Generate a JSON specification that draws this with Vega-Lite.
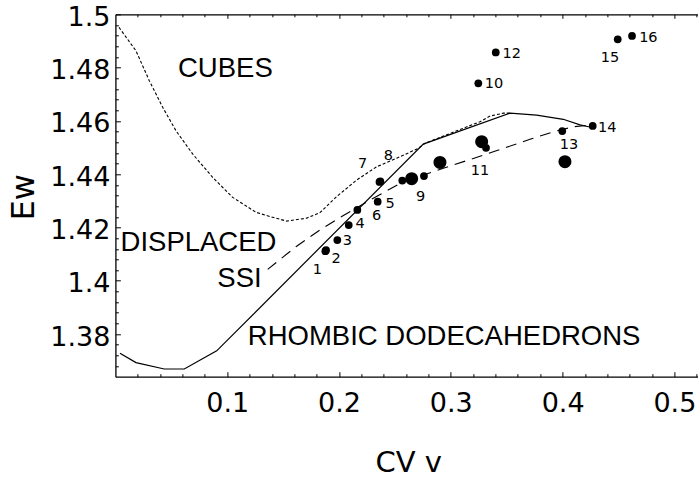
{
  "$schema": "https://vega.github.io/schema/vega-lite/v6.json",
  "width": 582.6,
  "height": 362.4,
  "autosize": "none",
  "padding": {"left": 115.4, "top": 14.3, "right": 0, "bottom": 104.3},
  "background": "white",
  "config": {
    "view": {"stroke": null},
    "axis": {
      "domainColor": "black",
      "domainWidth": 1.3,
      "tickColor": "black",
      "tickWidth": 1,
      "grid": false,
      "labelColor": "black",
      "labelFont": "DejaVu Sans",
      "labelFontSize": 27,
      "labelOverlap": false,
      "labelFlush": false,
      "titleColor": "black",
      "titleFont": "DejaVu Sans",
      "titleFontWeight": "normal"
    }
  },
  "resolve": {"axis": {"y": "independent"}},
  "datasets": {
    "rhombic": [
      {"cv": 0.0041, "ew": 1.3728},
      {"cv": 0.0184, "ew": 1.3693},
      {"cv": 0.0437, "ew": 1.3669},
      {"cv": 0.0616, "ew": 1.3669},
      {"cv": 0.0906, "ew": 1.3737},
      {"cv": 0.2754, "ew": 1.4513},
      {"cv": 0.3530, "ew": 1.4629},
      {"cv": 0.3768, "ew": 1.4622},
      {"cv": 0.4006, "ew": 1.4606},
      {"cv": 0.4156, "ew": 1.4585},
      {"cv": 0.4230, "ew": 1.4578},
      {"cv": 0.4269, "ew": 1.4578}
    ],
    "cubes": [
      {"cv": 0.0032, "ew": 1.4951},
      {"cv": 0.0184, "ew": 1.4863},
      {"cv": 0.0303, "ew": 1.4751},
      {"cv": 0.0423, "ew": 1.4651},
      {"cv": 0.0542, "ew": 1.4563},
      {"cv": 0.0691, "ew": 1.4476},
      {"cv": 0.0870, "ew": 1.4388},
      {"cv": 0.1049, "ew": 1.4313},
      {"cv": 0.1258, "ew": 1.4257},
      {"cv": 0.1383, "ew": 1.4241},
      {"cv": 0.1532, "ew": 1.4224},
      {"cv": 0.1711, "ew": 1.4235},
      {"cv": 0.1830, "ew": 1.4256},
      {"cv": 0.1979, "ew": 1.4316},
      {"cv": 0.2158, "ew": 1.4378},
      {"cv": 0.2337, "ew": 1.4428},
      {"cv": 0.2516, "ew": 1.4460},
      {"cv": 0.2709, "ew": 1.4497},
      {"cv": 0.2769, "ew": 1.4516},
      {"cv": 0.3261, "ew": 1.4597},
      {"cv": 0.3351, "ew": 1.4618},
      {"cv": 0.3470, "ew": 1.4629},
      {"cv": 0.3530, "ew": 1.4629}
    ],
    "ssi": [
      {"cv": 0.1362, "ew": 1.4043},
      {"cv": 0.1615, "ew": 1.4128},
      {"cv": 0.1830, "ew": 1.4191},
      {"cv": 0.2024, "ew": 1.4241},
      {"cv": 0.2277, "ew": 1.4303},
      {"cv": 0.2575, "ew": 1.4372},
      {"cv": 0.2933, "ew": 1.4422},
      {"cv": 0.3380, "ew": 1.4484},
      {"cv": 0.3708, "ew": 1.4531},
      {"cv": 0.3917, "ew": 1.4559},
      {"cv": 0.4096, "ew": 1.4578},
      {"cv": 0.4216, "ew": 1.4583}
    ],
    "samples": [
      {"id": "1", "cv": 0.1878, "ew": 1.4111, "group": 1, "lx": 0.1806, "ly": 1.4044},
      {"id": "2", "cv": 0.1884, "ew": 1.4115, "group": 1, "lx": 0.1973, "ly": 1.4084},
      {"id": "3", "cv": 0.1985, "ew": 1.4153, "group": 1, "lx": 0.2074, "ly": 1.4153},
      {"id": "4", "cv": 0.2087, "ew": 1.4209, "group": 1, "lx": 0.2188, "ly": 1.4218},
      {"id": "5", "cv": 0.2346, "ew": 1.4297, "group": 1, "lx": 0.2456, "ly": 1.4293},
      {"id": "6", "cv": 0.2164, "ew": 1.4266, "group": 1, "lx": 0.2337, "ly": 1.4247},
      {"id": "7", "cv": 0.2362, "ew": 1.4371, "group": 1, "lx": 0.2212, "ly": 1.4441},
      {"id": "8", "cv": 0.2370, "ew": 1.4373, "group": 1, "lx": 0.2441, "ly": 1.4472},
      {"id": "9", "cv": 0.2650, "ew": 1.4383, "group": 2, "lx": 0.2731, "ly": 1.4318},
      {"id": "", "cv": 0.2566, "ew": 1.4376, "group": 1},
      {"id": "", "cv": 0.2760, "ew": 1.4393, "group": 1},
      {"id": "", "cv": 0.2903, "ew": 1.4444, "group": 2},
      {"id": "10", "cv": 0.3246, "ew": 1.4741, "group": 1, "lx": 0.3386, "ly": 1.4741},
      {"id": "11", "cv": 0.3276, "ew": 1.4522, "group": 2, "lx": 0.3261, "ly": 1.4416},
      {"id": "", "cv": 0.3315, "ew": 1.4499, "group": 1},
      {"id": "12", "cv": 0.3402, "ew": 1.4857, "group": 1, "lx": 0.3545, "ly": 1.4854},
      {"id": "13", "cv": 0.3997, "ew": 1.4562, "group": 1, "lx": 0.4057, "ly": 1.4513},
      {"id": "", "cv": 0.4021, "ew": 1.4447, "group": 2},
      {"id": "14", "cv": 0.4269, "ew": 1.4581, "group": 1, "lx": 0.4400, "ly": 1.4578},
      {"id": "15", "cv": 0.4493, "ew": 1.4906, "group": 1, "lx": 0.4424, "ly": 1.4839},
      {"id": "16", "cv": 0.4621, "ew": 1.4919, "group": 1, "lx": 0.4767, "ly": 1.4916}
    ],
    "regions": [
      {"name": "CUBES", "cv": 0.0560, "ew": 1.4764},
      {"name": "DISPLACED", "cv": 0.0046, "ew": 1.4113},
      {"name": "SSI", "cv": 0.0912, "ew": 1.3978},
      {"name": "RHOMBIC DODECAHEDRONS", "cv": 0.1184, "ew": 1.3759}
    ]
  },
  "layer": [
    {
      "data": {"name": "rhombic"},
      "mark": {"type": "line", "color": "black", "strokeWidth": 1.2},
      "encoding": {
        "x": {
          "field": "cv", "type": "quantitative",
          "scale": {"domain": [0, 0.5211], "nice": false, "zero": false},
          "axis": {
            "orient": "bottom",
            "title": "CV v",
            "titleFontSize": 29,
            "titleX": 292.9,
            "titleY": 95,
            "titleAlign": "center",
            "titleBaseline": "alphabetic",
            "values": [0.02, 0.04, 0.06, 0.08, 0.1, 0.12, 0.14, 0.16, 0.18, 0.2, 0.22, 0.24, 0.26, 0.28, 0.3, 0.32, 0.34, 0.36, 0.38, 0.4, 0.42, 0.44, 0.46, 0.48, 0.5, 0.52],
            "labelExpr": "abs(datum.value * 10 - round(datum.value * 10)) < 0.001 ? format(datum.value, '.1f') : ''",
            "labelPadding": 19,
            "tickSize": {"condition": {"test": "abs(datum.value * 10 - round(datum.value * 10)) < 0.001", "value": -5}, "value": -3}
          }
        },
        "y": {
          "field": "ew", "type": "quantitative",
          "scale": {"domain": [1.36401, 1.5], "nice": false, "zero": false},
          "axis": {
            "orient": "left",
            "title": "Ew",
            "titleFontSize": 32,
            "titleAngle": 270,
            "titleX": -82.1,
            "titleY": 182.4,
            "titleAlign": "center",
            "titleBaseline": "alphabetic",
            "values": [1.38, 1.4, 1.42, 1.44, 1.46, 1.48, 1.5],
            "format": ".2~f",
            "labelPadding": 10.5,
            "labelOffset": 3,
            "tickSize": -5
          }
        }
      }
    },
    {
      "data": {"name": "cubes"},
      "mark": {"type": "line", "color": "black", "strokeWidth": 1.1, "strokeDash": [3, 2]},
      "encoding": {
        "x": {"field": "cv", "type": "quantitative", "axis": null},
        "y": {
          "field": "ew", "type": "quantitative",
          "axis": {
            "orient": "left",
            "title": null,
            "labels": false,
            "domain": false,
            "values": [1.368, 1.372, 1.376, 1.384, 1.388, 1.392, 1.396, 1.404, 1.408, 1.412, 1.416, 1.424, 1.428, 1.432, 1.436, 1.444, 1.448, 1.452, 1.456, 1.464, 1.468, 1.472, 1.476, 1.484, 1.488, 1.492, 1.496],
            "tickSize": -3
          }
        }
      }
    },
    {
      "data": {"name": "ssi"},
      "mark": {"type": "line", "color": "black", "strokeWidth": 1.1, "strokeDash": [11, 7]},
      "encoding": {
        "x": {"field": "cv", "type": "quantitative", "axis": null},
        "y": {"field": "ew", "type": "quantitative", "axis": null}
      }
    },
    {
      "data": {"name": "samples"},
      "mark": {"type": "circle", "color": "black", "opacity": 1},
      "encoding": {
        "x": {
          "field": "cv", "type": "quantitative",
          "axis": {
            "orient": "top",
            "title": null,
            "labels": false,
            "values": [0.02, 0.04, 0.06, 0.08, 0.1, 0.12, 0.14, 0.16, 0.18, 0.2, 0.22, 0.24, 0.26, 0.28, 0.3, 0.32, 0.34, 0.36, 0.38, 0.4, 0.42, 0.44, 0.46, 0.48, 0.5, 0.52],
            "tickSize": {"condition": {"test": "abs(datum.value * 10 - round(datum.value * 10)) < 0.001", "value": -4}, "value": -2.5}
          }
        },
        "y": {"field": "ew", "type": "quantitative", "axis": null},
        "size": {
          "field": "group", "type": "ordinal",
          "scale": {"domain": [1, 2], "range": [60, 170]},
          "legend": null
        }
      }
    },
    {
      "data": {"name": "samples"},
      "transform": [{"filter": "datum.id != ''"}],
      "mark": {"type": "text", "color": "black", "font": "DejaVu Sans", "fontSize": 14.5, "align": "center", "baseline": "middle", "dy": 1},
      "encoding": {
        "x": {"field": "lx", "type": "quantitative", "axis": null},
        "y": {"field": "ly", "type": "quantitative", "axis": null},
        "text": {"field": "id"}
      }
    },
    {
      "data": {"name": "regions"},
      "mark": {"type": "text", "color": "black", "font": "Liberation Sans", "fontSize": 27.5, "align": "left", "baseline": "alphabetic"},
      "encoding": {
        "x": {"field": "cv", "type": "quantitative", "axis": null},
        "y": {"field": "ew", "type": "quantitative", "axis": null},
        "text": {"field": "name"}
      }
    }
  ]
}
